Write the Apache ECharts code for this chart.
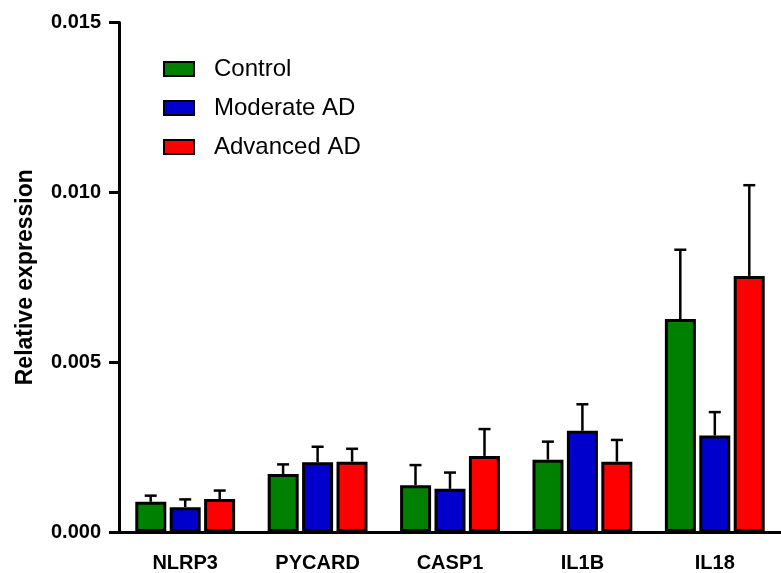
<!DOCTYPE html>
<html>
<head>
<meta charset="utf-8">
<script src="https://cdn.jsdelivr.net/npm/echarts@6/dist/echarts.min.js"></script>
<style>html,body{margin:0;padding:0;background:#fff}#chart{width:781px;height:573px}</style>
</head>
<body>
<div id="chart"></div>
<script>
const genes = ["NLRP3", "PYCARD", "CASP1", "IL1B", "IL18"]
const groups = ["Control", "Moderate AD", "Advanced AD"]
const colors = ["#008000", "#0000CC", "#FF0000"]
// mean values
const control = [0.00089, 0.00171, 0.00138, 0.00213, 0.00627]
const moderate = [0.00073, 0.00205, 0.00127, 0.00298, 0.00284]
const advanced = [0.00097, 0.00207, 0.00224, 0.00207, 0.00754]
// upper error (SEM)
const controlErr = [0.00018, 0.00028, 0.00059, 0.00053, 0.00204]
const moderateErr = [0.00023, 0.00046, 0.00048, 0.00078, 0.00069]
const advancedErr = [0.00025, 0.00038, 0.00079, 0.00064, 0.00267]
const yTicks = [0, 0.005, 0.010, 0.015]

const means = [control, moderate, advanced]
const errs = [controlErr, moderateErr, advancedErr]
const font = "'Liberation Sans', Arial, sans-serif"
const barW = 31, step = 34.5

const chart = echarts.init(document.getElementById("chart"))
const series = []
means.forEach((m, i) => {
  series.push({
    name: groups[i], type: "bar", data: m, barWidth: barW, barGap: "11%",
    itemStyle: { color: colors[i], borderColor: "#000", borderWidth: 3 }
  })
})
means.forEach((m, i) => {
  series.push({
    type: "custom", z: 1,
    data: m.map((v, j) => [j, v, v + errs[i][j]]),
    renderItem: (params, api) => {
      const p0 = api.coord([api.value(0), api.value(1)])
      const p1 = api.coord([api.value(0), api.value(2)])
      const x = p0[0] + (i - 1) * step
      const st = { stroke: "#000", lineWidth: 2.5 }
      return { type: "group", children: [
        { type: "line", shape: { x1: x, y1: p0[1], x2: x, y2: p1[1] }, style: st },
        { type: "line", shape: { x1: x - 6, y1: p1[1], x2: x + 6, y2: p1[1] }, style: st }
      ] }
    }
  })
})

chart.setOption({
  animation: false,
  textStyle: { fontFamily: font },
  grid: { left: 119, right: -12, top: 22.5, bottom: 41 },
  legend: {
    data: groups, orient: "vertical", left: 158, top: 52,
    itemWidth: 30, itemHeight: 14, itemGap: 15, icon: "rect",
    itemStyle: { borderColor: "#000", borderWidth: 2 },
    textStyle: { fontSize: 24, color: "#000", fontFamily: font, padding: [0, 0, 0, 15] }
  },
  xAxis: {
    type: "category", data: genes,
    axisLine: { lineStyle: { color: "#000", width: 3 } },
    axisTick: { alignWithLabel: true, length: 9, lineStyle: { width: 3, color: "#000" } },
    axisLabel: { color: "#000", fontWeight: "bold", fontSize: 20, margin: 21, fontFamily: font }
  },
  yAxis: {
    type: "value", min: yTicks[0], max: yTicks[yTicks.length - 1], interval: 0.005,
    name: "Relative expression", nameLocation: "middle", nameGap: 82,
    nameTextStyle: { color: "#000", fontWeight: "bold", fontSize: 23, fontFamily: font },
    axisLine: { show: true, lineStyle: { color: "#000", width: 3 } },
    axisTick: { show: true, length: 10, lineStyle: { width: 3, color: "#000" } },
    splitLine: { show: false },
    axisLabel: { color: "#000", fontWeight: "bold", fontSize: 20, margin: 18, fontFamily: font,
      formatter: v => v.toFixed(3) }
  },
  series: series
})
</script>
</body>
</html>
